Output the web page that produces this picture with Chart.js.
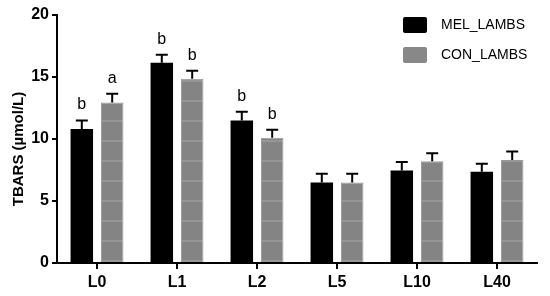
<!DOCTYPE html>
<html>
<head>
<meta charset="utf-8">
<script src="https://cdn.jsdelivr.net/npm/chart.js@4/dist/chart.umd.min.js"></script>
<style>
html,body{margin:0;padding:0;background:#fff;}
#wrap{width:550px;height:296px;position:relative;}
</style>
</head>
<body>
<div id="wrap"><canvas id="c" width="550" height="296"></canvas></div>
<script>
const categories = ['L0', 'L1', 'L2', 'L5', 'L10', 'L40'];
const seriesNames = ['MEL_LAMBS', 'CON_LAMBS'];
const melValues = [10.8, 16.15, 11.5, 6.5, 7.45, 7.35];
const melErrors = [0.7, 0.65, 0.7, 0.7, 0.7, 0.65];
const conValues = [12.95, 14.85, 10.1, 6.5, 8.2, 8.3];
const conErrors = [0.7, 0.65, 0.65, 0.7, 0.65, 0.7];
const melLetters = ['b', 'b', 'b', '', '', ''];
const conLetters = ['a', 'b', 'b', '', '', ''];
const yTicks = [0, 5, 10, 15, 20];
const yTitle = 'TBARS (µmol/L)';

const FONT = '"Liberation Sans", Arial, Helvetica, sans-serif';

function grayPattern() {
  const t = document.createElement('canvas');
  t.width = 8; t.height = 20;
  const g = t.getContext('2d');
  g.fillStyle = '#848484';
  g.fillRect(0, 0, 8, 20);
  g.fillStyle = '#969696';
  g.fillRect(0, 0, 8, 2);
  return document.getElementById('c').getContext('2d').createPattern(t, 'repeat');
}

const errorsPlugin = {
  id: 'errorsPlugin',
  afterDatasetsDraw(chart) {
    const ctx = chart.ctx;
    const ys = chart.scales.y;
    const errs = [melErrors, conErrors];
    const letters = [melLetters, conLetters];
    ctx.save();
    chart.data.datasets.forEach((ds, di) => {
      const meta = chart.getDatasetMeta(di);
      meta.data.forEach((bar, i) => {
        const v = ds.data[i];
        const top = ys.getPixelForValue(v + errs[di][i]);
        ctx.strokeStyle = '#000';
        ctx.lineWidth = 2;
        ctx.beginPath();
        ctx.moveTo(bar.x, bar.y);
        ctx.lineTo(bar.x, top);
        ctx.moveTo(bar.x - 6, top);
        ctx.lineTo(bar.x + 6, top);
        ctx.stroke();
        const L = letters[di][i];
        if (L) {
          ctx.fillStyle = '#000';
          ctx.font = '16px ' + FONT;
          ctx.textAlign = 'center';
          ctx.textBaseline = 'alphabetic';
          ctx.fillText(L, bar.x, top - 11);
        }
      });
    });
    ctx.save();
    ctx.translate(19, 149);
    ctx.rotate(-Math.PI / 2);
    ctx.font = 'bold 15px ' + FONT;
    ctx.fillStyle = '#000';
    ctx.textAlign = 'center';
    ctx.textBaseline = 'middle';
    ctx.fillText(yTitle, 0, 0);
    ctx.restore();
    const items = [
      { label: chart.data.datasets[0].label, color: '#000' },
      { label: chart.data.datasets[1].label, color: '#888888' }
    ];
    items.forEach((it, k) => {
      const yTop = 17 + k * 30;
      ctx.fillStyle = it.color;
      ctx.beginPath();
      if (ctx.roundRect) ctx.roundRect(403, yTop, 24, 16, 2); else ctx.rect(403, yTop, 24, 16);
      ctx.fill();
      ctx.fillStyle = '#000';
      ctx.font = '14px ' + FONT;
      ctx.textAlign = 'left';
      ctx.textBaseline = 'middle';
      ctx.fillText(it.label, 441, yTop + 8.5);
    });
    ctx.restore();
  }
};

new Chart(document.getElementById('c'), {
  type: 'bar',
  data: {
    labels: categories,
    datasets: [
      { label: seriesNames[0], data: melValues, backgroundColor: '#000', borderWidth: 0,
        barPercentage: 0.74, categoryPercentage: 0.76 },
      { label: seriesNames[1], data: conValues, backgroundColor: grayPattern(), borderColor: '#989898', borderWidth: 1,
        barPercentage: 0.74, categoryPercentage: 0.76 }
    ]
  },
  options: {
    responsive: false,
    animation: false,
    devicePixelRatio: 1,
    layout: { padding: { top: 15, right: 13, left: 0, bottom: 0 } },
    plugins: { legend: { display: false }, tooltip: { enabled: false } },
    scales: {
      x: {
        afterFit(s) { s.height = 33; },
        grid: { display: true, drawOnChartArea: false, drawTicks: true, tickLength: 6, offset: false, color: '#000', lineWidth: 2 },
        border: { display: true, color: '#000', width: 2 },
        ticks: { color: '#000', font: { family: FONT, size: 16, weight: 'bold' }, padding: 4 }
      },
      y: {
        min: 0, max: 20,
        afterFit(s) { s.width = 57; },
        afterBuildTicks(s) { s.ticks = yTicks.map(v => ({ value: v })); },
        grid: { display: true, drawOnChartArea: false, drawTicks: true, tickLength: 5, color: '#000', lineWidth: 2 },
        border: { display: true, color: '#000', width: 2 },
        ticks: { color: '#000', font: { family: FONT, size: 16, weight: 'bold' }, padding: 3 }
      }
    }
  },
  plugins: [errorsPlugin]
});
</script>
</body>
</html>
